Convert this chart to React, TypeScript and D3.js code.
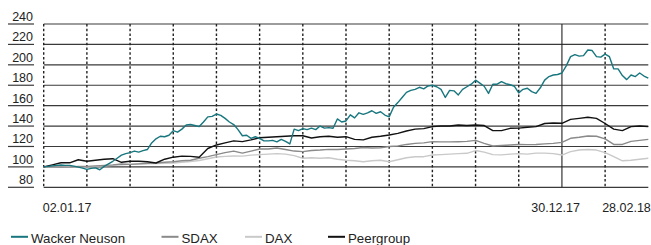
import * as d3 from 'd3'

const W = 651
const H = 245
const PLOT = { left: 43.7, right: 648.3, top: 24, bottom: 187.3 }
const FONT = '"Liberation Sans", Arial, Helvetica, sans-serif'

// axis setup
const Y_TICKS = [80, 100, 120, 140, 160, 180, 200, 220, 240]
const MONTH_COUNT = 14
const SOLID_MONTH = 12
const X_LABELS = ['02.01.17', '30.12.17', '28.02.18']
const X_LABEL_MONTHS = [0, 12, 14]

// series (indexed, 02.01.17 = 100)
const SERIES_NAMES = ['Wacker Neuson', 'SDAX', 'DAX', 'Peergroup']
const SERIES_COLORS = ['#17767e', '#8a8a8a', '#c9c9c9', '#111111']

// one value every 0.1 month
const wackerNeuson = [
  100, 100.5, 101, 101.5, 101.8, 101.5, 101.5, 100.8, 99.8, 98.8,
  97.5, 98.5, 99, 97.2, 100.5, 103, 105.5, 108.5, 111.5, 113,
  114, 115.5, 114.5, 116, 117, 123.5, 127.5, 130, 129.5, 131,
  135.5, 134, 137, 141, 141.5, 140.5, 139.5, 144, 149, 149.5,
  151.8, 150.5, 147.5, 144, 141.5, 136.5, 130.5, 131, 128, 129.5,
  128, 125.5, 125.5, 126, 124.5, 127, 125, 122.5, 137, 135.5,
  137.5, 136.5, 138, 136.5, 140, 138, 138.5, 137.8, 147, 144,
  145, 151, 148, 153, 151.5, 153, 155, 152.5, 154, 150.8,
  149, 158.5, 163, 168, 173, 175, 176, 178, 176.5, 179.3,
  180, 178.5, 176, 168, 175, 174.5, 170.5, 176, 178.5, 181,
  185, 182, 179, 172, 181, 181, 183.5, 181.5, 180.5, 179,
  172.5, 176, 177, 173.7, 172, 177.5, 185, 188.5, 190, 190.5,
  192, 199, 208, 210, 208.5, 209, 214.5, 214, 208, 207.5,
  210.5, 208, 196, 196, 189.5, 185.5, 190, 188.5, 192, 189,
  187,
]

// one value every 0.2 month
const sdax = [
  100, 100, 99.8, 100, 100.5, 100.5, 101, 101.5, 102, 102.8,
  102.5, 103, 103.5, 103.8, 104.5, 105, 106, 106.5, 108.5, 110,
  112, 114, 115.5, 113.5, 115.5, 117.5, 117.5, 118.5, 117, 115.5,
  115, 116, 116.5, 117.2, 117, 117.5, 118, 119, 118.5, 118.8,
  120, 120.5, 122, 123, 123.5, 124.7, 124.5, 124.5, 124.7, 125,
  126, 123, 120.5, 121, 121.5, 122, 121.8, 122, 122.5, 123,
  124, 128, 129, 130.3, 130, 127.5, 122, 122, 125, 126,
  127,
]

const dax = [
  100, 100, 100, 100.3, 100.3, 100, 100.5, 101, 101.5, 102,
  102.5, 102.8, 103, 103.2, 103.5, 103.8, 104.5, 105.3, 106.3, 108,
  109.7, 110.3, 110.7, 110.5, 111.5, 112, 112.5, 113, 112.5, 111,
  108.5, 109, 108.5, 109, 107.5, 106.5, 106, 105, 106, 106.5,
  105, 107, 109, 110, 110, 111.6, 112, 112.5, 113, 113.3,
  116, 114.5, 112, 111.8, 112.5, 113, 112.5, 113.5, 113.5, 113,
  111.6, 115, 116.5, 117, 116.5, 114, 110, 106, 106.5, 107.5,
  108.4,
]

const peergroup = [
  100, 102, 104, 104, 107, 105.5, 106.5, 107.5, 108, 104.5,
  105.5, 105.5, 105, 103.8, 107.5, 109.5, 110.5, 110.3, 109.5, 118,
  121.5, 123.5, 125.5, 124.8, 126.5, 128.6, 129, 129.5, 130, 130.5,
  130.5, 128.3, 129.5, 130, 129, 129.6, 127, 126.5, 129, 130,
  131.3, 132.8, 135.2, 137, 137.5, 139.5, 140, 140, 141, 140.5,
  141, 140.5, 135.5, 135.5, 137.8, 138, 138.8, 139.4, 142.5, 143,
  142.7, 146.5, 147.5, 148.6, 147.5, 142.5, 137, 135.5, 139.4, 140,
  139.4,
]

const SERIES_VALUES = [wackerNeuson, sdax, dax, peergroup]
const SERIES_STEP = [0.1, 0.2, 0.2, 0.2]
const DRAW_ORDER = [2, 1, 3, 0]

// legend layout
const LEGEND_X = [11, 161.5, 245, 328]
const LEGEND_Y = 236.8

export default function App() {
  const x = d3.scaleLinear().domain([0, MONTH_COUNT]).range([PLOT.left, PLOT.right])
  const y = d3.scaleLinear().domain([80, 240]).range([PLOT.bottom, PLOT.top])

  const line = d3.line<number>()
  const paths = SERIES_VALUES.map((vals, s) =>
    line.x((_, i) => x(i * SERIES_STEP[s])).y(d => y(d))(vals) || ''
  )

  const months = d3.range(0, MONTH_COUNT)

  // label placement relative to its month line
  const xLabelAnchor = ['start', 'end', 'end']
  const xLabelShift = [-1, 18, 2.5]

  return (
    <svg
      width={W}
      height={H}
      style={{ position: 'absolute', left: 0, top: 0, background: '#fff' }}
      fontFamily={FONT}
    >
      {/* horizontal grid + y labels */}
      {Y_TICKS.map(t => (
        <g key={t}>
          <line x1={PLOT.left} x2={PLOT.right} y1={y(t)} y2={y(t)} stroke="#3a3a3a" strokeWidth={1.2} />
          <line x1={8} x2={34} y1={y(t)} y2={y(t)} stroke="#3a3a3a" strokeWidth={1.2} />
          <text x={33} y={y(t) - 3} textAnchor="end" fontSize={12.5} fill="#222">{t}</text>
        </g>
      ))}

      {/* month lines */}
      {months.map(m => (
        <line
          key={m}
          x1={x(m)}
          x2={x(m)}
          y1={PLOT.top}
          y2={PLOT.bottom}
          stroke="#222"
          strokeWidth={m === SOLID_MONTH ? 1.1 : 1.4}
          strokeDasharray={m === SOLID_MONTH ? undefined : '2.5,2.2'}
        />
      ))}

      {/* series */}
      {DRAW_ORDER.map(s => (
        <path
          key={SERIES_NAMES[s]}
          d={paths[s]}
          fill="none"
          stroke={SERIES_COLORS[s]}
          strokeWidth={1.4}
          strokeLinejoin="round"
        />
      ))}

      {/* x labels */}
      {X_LABELS.map((lab, i) => (
        <text
          key={lab}
          x={x(X_LABEL_MONTHS[i]) + xLabelShift[i]}
          y={212}
          textAnchor={xLabelAnchor[i]}
          fontSize={12.5}
          fill="#222"
        >
          {lab}
        </text>
      ))}

      {/* legend */}
      {SERIES_NAMES.map((name, i) => (
        <g key={name} transform={`translate(${LEGEND_X[i]},${LEGEND_Y})`}>
          <line x1={0} x2={17} y1={0} y2={0} stroke={SERIES_COLORS[i]} strokeWidth={2} />
          <text x={20} y={6.3} fontSize={13.3} fill="#222">{name}</text>
        </g>
      ))}
    </svg>
  )
}
